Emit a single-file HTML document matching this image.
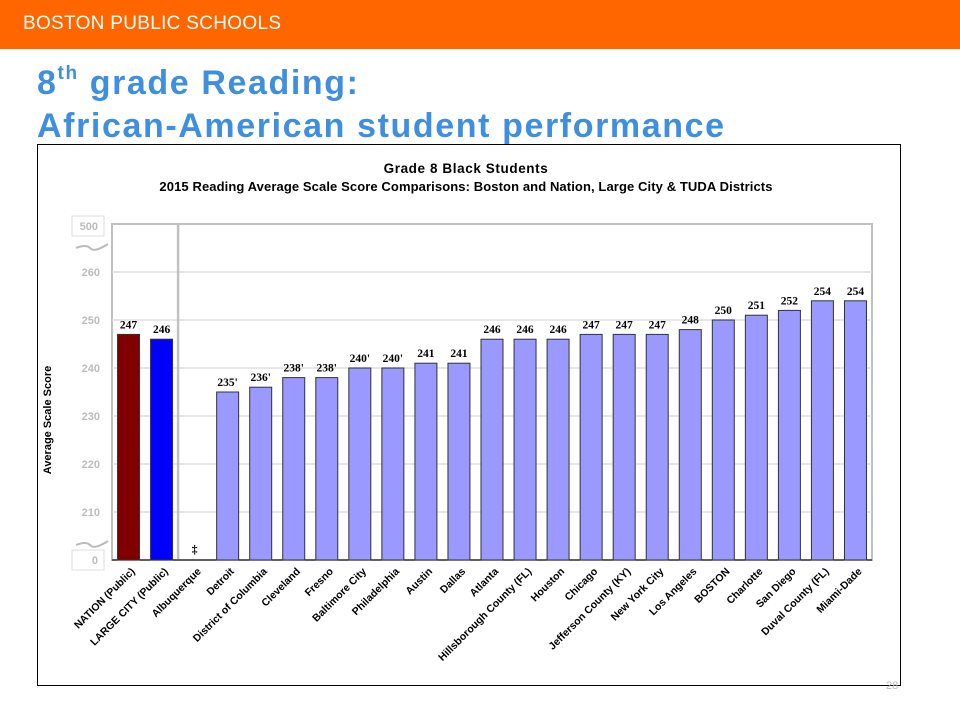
<!DOCTYPE html>
<html><head><meta charset="utf-8"><style>
body{margin:0;width:960px;height:720px;background:#fff;position:relative;overflow:hidden;font-family:"Liberation Sans",sans-serif}
.hdr{position:absolute;left:0;top:0;width:960px;height:49px;background:#FF6600}
.hdr span{position:absolute;left:23px;top:13px;color:#fff;font-size:19px;letter-spacing:0.3px}
.title{position:absolute;left:37px;top:52px;color:#3F8FE0;font-weight:bold;font-size:34px;line-height:43px;letter-spacing:1.6px}
.title sup{font-size:19px;vertical-align:15px}
.frame{position:absolute;left:37px;top:144px;width:864px;height:542px;border:1px solid #000;box-sizing:border-box}
.pg{position:absolute;left:886px;top:680px;color:#bbb;font-size:11px}
</style></head><body>
<div class="hdr"><span>BOSTON PUBLIC SCHOOLS</span></div>
<div class="title">8<sup>th</sup> grade Reading:<br>African-American student performance</div>
<div class="frame"></div>
<div class="pg">28</div>
<svg id="chart" width="960" height="720" style="position:absolute;left:0;top:0">
<text x="466" y="173" text-anchor="middle" font-size="13.5" font-weight="bold" font-family="Liberation Sans" letter-spacing="0.6">Grade 8 Black Students</text>
<text x="466" y="191" text-anchor="middle" font-size="13" font-weight="bold" font-family="Liberation Sans" letter-spacing="0.1">2015 Reading Average Scale Score Comparisons: Boston and Nation, Large City &amp; TUDA Districts</text>
<text transform="translate(51,420) rotate(-90)" text-anchor="middle" font-size="11" font-weight="bold" font-family="Liberation Sans">Average Scale Score</text>
</svg>
<script>
const categories=["NATION (Public)","LARGE CITY (Public)","Albuquerque","Detroit","District of Columbia","Cleveland","Fresno","Baltimore City","Philadelphia","Austin","Dallas","Atlanta","Hillsborough County (FL)","Houston","Chicago","Jefferson County (KY)","New York City","Los Angeles","BOSTON","Charlotte","San Diego","Duval County (FL)","Miami-Dade"];
const values=[247,246,null,235,236,238,238,240,240,241,241,246,246,246,247,247,247,248,250,251,252,254,254];
const valueLabels=["247","246","‡","235'","236'","238'","238'","240'","240'","241","241","246","246","246","247","247","247","248","250","251","252","254","254"];
const yTicks=[210,220,230,240,250,260];
const svg=document.getElementById('chart');
const NS='http://www.w3.org/2000/svg';
const x0=112,x1=872,yAxis=560;
const slot=(x1-x0)/categories.length;
function xc(i){return x0+slot*(i+0.5);}
function y(v){return 512-(v-210)*4.8;}
function mk(t,a){const e=document.createElementNS(NS,t);for(const k in a)e.setAttribute(k,a[k]);svg.appendChild(e);return e;}
let e=mk('rect',{x:x0,y:224,width:x1-x0,height:yAxis-224,fill:'none',stroke:'#c0c0c0','stroke-width':2});


yTicks.forEach(v=>{
 let g=mk('line',{x1:x0,x2:x1,y1:y(v),y2:y(v),stroke:'#ddd','stroke-width':1.5});
 
 
 let t=mk('text',{x:100,y:y(v)+4,'text-anchor':'end','font-size':11,'font-weight':'bold',fill:'#bbb','font-family':'Liberation Sans'});
 t.textContent=v;
 
 
});
[[500,230],[0,564]].forEach(([v,yy])=>{
 let r=mk('rect',{x:72,y:yy-14,width:32,height:20,fill:'#fff',stroke:'#ddd'});
 
 
 let t=mk('text',{x:98,y:yy,'text-anchor':'end','font-size':11,'font-weight':'bold',fill:'#bbb','font-family':'Liberation Sans'});
 t.textContent=v;
 
 
});
[246,543].forEach(yy=>{
 let p=mk('path',{d:`M76 ${yy+2} q10 -4 14 0 q4 5 18 -4`,fill:'none',stroke:'#bbb','stroke-width':2});
 
 
});
e=mk('line',{x1:x0+slot*2,x2:x0+slot*2,y1:224,y2:yAxis,stroke:'#c0c0c0','stroke-width':2.5});


e=mk('line',{x1:x0,x2:x1,y1:yAxis,y2:yAxis,stroke:'#000','stroke-width':1});


const colors=['#800000','#0000FF'];
categories.forEach((c,i)=>{
 const cx=xc(i),v=values[i];
 if(v!==null){
  let b=mk('rect',{x:cx-11,y:y(v),width:22,height:yAxis-y(v),fill:colors[i]||'#9999FF',stroke:'#333','stroke-width':1});
  
  
 }
 let t=mk('text',{x:cx,y:v!==null?y(v)-6:553,'text-anchor':'middle','font-size':11.5,'font-weight':'bold','font-family':'Liberation Serif'});
 t.textContent=valueLabels[i];
 
 
 let l=mk('text',{transform:`translate(${cx+7},${yAxis+12}) rotate(-45)`,'text-anchor':'end','font-size':10.5,'font-weight':'bold','font-family':'Liberation Sans'});
 l.textContent=c;
 
 
});
</script>
</body></html>
